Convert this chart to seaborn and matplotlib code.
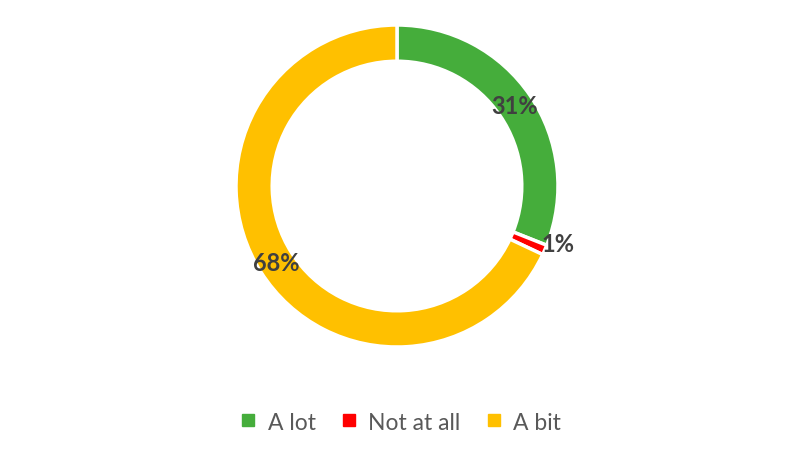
import numpy as np
import matplotlib
matplotlib.use("Agg")
import matplotlib.pyplot as plt
import seaborn as sns

categories = ["A lot", "Not at all", "A bit"]
values = [31, 1, 68]
labels = ["31%", "1%", "68%"]
colors = ["#45AD3B", "#FF0000", "#FFC000"]

sns.set_theme(style="white")
plt.rcParams["font.family"] = ["Lato", "DejaVu Sans"]

fig = plt.figure(figsize=(8, 4.56), dpi=100)
ax = fig.add_axes([(397 - 161) / 800, (456 - 348) / 456, 322 / 800, 322 / 456])
wedges, _ = ax.pie(values, colors=colors, startangle=90, counterclock=False,
                   radius=1.0,
                   wedgeprops=dict(width=0.225, edgecolor="white", linewidth=2.5))
ax.set_xlim(-1, 1)
ax.set_ylim(-1, 1)
ax.set_aspect("equal")
ax.axis("off")

for w, lab in zip(wedges, labels):
    mid = np.deg2rad((w.theta1 + w.theta2) / 2)
    if lab == "1%":
        x, y = 0.9, -0.355
        ax.text(x, y, lab, ha="left", va="center", fontsize=17,
                fontweight="bold", color="#404040")
    else:
        r = 0.885
        ax.text(r * np.cos(mid), r * np.sin(mid), lab, ha="center", va="center",
                fontsize=17, fontweight="bold", color="#404040")

handles = [plt.Line2D([0], [0], marker="s", linestyle="", markersize=8.5,
                      markerfacecolor=c, markeredgecolor=c) for c in colors]
fig.legend(handles, categories, loc="center", bbox_to_anchor=(0.5, 1 - 423 / 456),
           ncol=3, frameon=False, fontsize=16.5, labelcolor="#595959",
           handletextpad=0.45, columnspacing=1.05, handlelength=0.8)

fig.savefig("out.png", dpi=100)
